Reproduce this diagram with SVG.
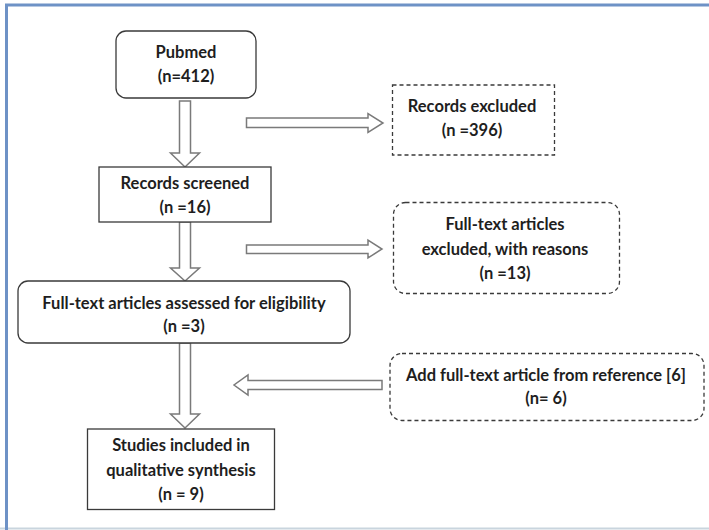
<svg xmlns="http://www.w3.org/2000/svg" width="709" height="530" viewBox="0 0 709 530">
<style>
  .box { fill: #fff; stroke: #3a3a3a; stroke-width: 1.3; }
  .dash { fill: #fff; stroke: #3a3a3a; stroke-width: 1.3; stroke-dasharray: 4 3; }
  .arrow { fill: #fff; stroke: #7a7a7a; stroke-width: 1.5; stroke-linejoin: miter; }
  text { font-family: Lato, "Open Sans", "Liberation Sans", sans-serif; font-weight: bold; font-size: 16.5px; fill: #1e1e1e; text-anchor: middle; dominant-baseline: central; }
</style>
<rect x="0" y="0" width="709" height="530" fill="#fff"/>
<g id="frame">
  <line x1="0" y1="528.5" x2="709" y2="528.5" stroke="#c9d5de" stroke-width="2"/>
  <path d="M6.5,530 V5 H709" fill="none" stroke="#6e92c6" stroke-width="3"/>
</g>
<g id="connectors">
  <polygon class="arrow" points="179.5,101 190.5,101 190.5,153 199.5,153 185,167 170.5,153 179.5,153"/>
  <polygon class="arrow" points="179.5,222 190.5,222 190.5,268 199.5,268 185,281 170.5,268 179.5,268"/>
  <polygon class="arrow" points="179.5,343 190.5,343 190.5,414 199.5,414 185,428 170.5,414 179.5,414"/>
  <polygon class="arrow" points="246.5,118 368,118 368,113.5 383,123 368,132.5 368,127.5 246.5,127.5"/>
  <polygon class="arrow" points="246.5,245 368,245 368,240 382,249 368,258 368,253.5 246.5,253.5"/>
  <polygon class="arrow" points="382,380.5 248,380.5 248,375 234,385 248,395 248,389.5 382,389.5"/>
</g>
<g id="pubmed">
  <rect class="box" x="116" y="31" width="140" height="67" rx="10"/>
  <text x="186" y="52">Pubmed</text>
  <text x="186" y="76">(n=412)</text>
</g>
<g id="records-screened">
  <rect class="box" x="99" y="167" width="172" height="55"/>
  <text x="185" y="183">Records screened</text>
  <text x="185" y="207">(n =16)</text>
</g>
<g id="records-excluded">
  <rect class="dash" x="392.5" y="85" width="162" height="70"/>
  <text x="472" y="106">Records excluded</text>
  <text x="472" y="130">(n =396)</text>
</g>
<g id="fulltext-excluded">
  <rect class="dash" x="393.5" y="202.5" width="226" height="91" rx="12"/>
  <text x="505" y="224">Full-text articles</text>
  <text x="505" y="248.5">excluded, with reasons</text>
  <text x="505" y="272.5">(n =13)</text>
</g>
<g id="fulltext-assessed">
  <rect class="box" x="18" y="281" width="332" height="62" rx="10"/>
  <text x="184" y="303">Full-text articles assessed for eligibility</text>
  <text x="184" y="326">(n =3)</text>
</g>
<g id="add-fulltext">
  <rect class="dash" x="390" y="353.5" width="314" height="67" rx="12"/>
  <text x="546" y="374.5">Add full-text article from reference [6]</text>
  <text x="546" y="397.5">(n= 6)</text>
</g>
<g id="studies-included">
  <rect class="box" x="87.5" y="429" width="187" height="80.5"/>
  <text x="181" y="445">Studies included in</text>
  <text x="181" y="469.5">qualitative synthesis</text>
  <text x="181" y="493.5">(n = 9)</text>
</g>
</svg>
